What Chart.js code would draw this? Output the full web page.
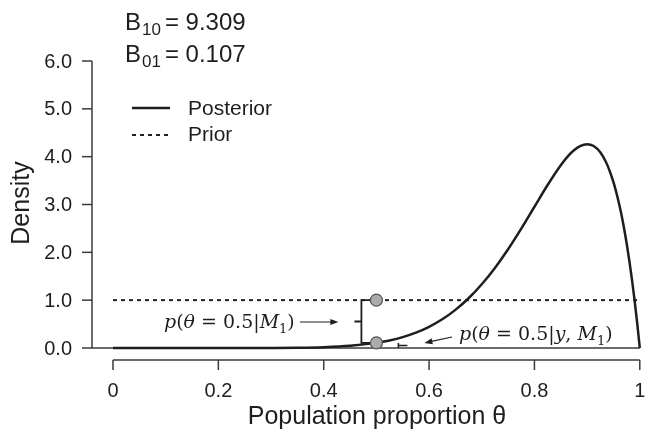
<!DOCTYPE html>
<html><head><meta charset="utf-8">
<script src="https://cdn.jsdelivr.net/npm/chart.js@4/dist/chart.umd.min.js"></script>
<style>html,body{margin:0;padding:0;background:#fff}canvas{display:block}</style>
</head><body>
<canvas id="c" width="647" height="429" style="width:647px;height:429px"></canvas>
<script>
// ---- data ----
const thetaValues = [0, 0.05, 0.1, 0.15, 0.2, 0.25, 0.3, 0.35, 0.4, 0.45, 0.5, 0.525, 0.55, 0.575, 0.6, 0.625, 0.65, 0.675, 0.7, 0.725, 0.75, 0.775, 0.8, 0.825, 0.85, 0.865, 0.875, 0.8875, 0.9, 0.9125, 0.925, 0.935, 0.94, 0.95, 0.96, 0.965, 0.97, 0.975, 0.98, 0.985, 0.99, 0.995, 1];
const posteriorDensity = [0, 0, 0, 0, 0, 0.0003, 0.0015, 0.0056, 0.0173, 0.0458, 0.107, 0.158, 0.228, 0.321, 0.443, 0.600, 0.797, 1.040, 1.332, 1.674, 2.065, 2.496, 2.953, 3.408, 3.822, 4.026, 4.134, 4.227, 4.262, 4.222, 4.090, 3.905, 3.782, 3.466, 3.047, 2.794, 2.509, 2.190, 1.834, 1.440, 1.005, 0.526, 0];
const priorTheta = [0, 1];
const priorDensity = [1, 1];
const testTheta = [0.5, 0.5];
const testDensity = [1.0, 0.107];          // prior and posterior height at theta = 0.5
const bfSubscripts = ['10', '01'];
const bfValues = ['9.309', '0.107'];
const legendLabels = ['Posterior', 'Prior'];
const xTickValues = [0, 0.2, 0.4, 0.6, 0.8, 1];
const xTickLabels = ['0', '0.2', '0.4', '0.6', '0.8', '1'];
const yTickValues = [0, 1, 2, 3, 4, 5, 6];
const yTickLabels = ['0.0', '1.0', '2.0', '3.0', '4.0', '5.0', '6.0'];
const xTitle = 'Population proportion \u03B8';
const yTitle = 'Density';

const SANS = '"Liberation Sans", Arial, sans-serif';
const SERIF = '"DejaVu Serif", serif';
const INK = '#1e1e1e';
const AXIS = '#3a3a3a';

function arrow(ctx, x1, y1, x2, y2) {
  ctx.save();
  ctx.strokeStyle = INK; ctx.fillStyle = INK; ctx.lineWidth = 1.2;
  const a = Math.atan2(y2 - y1, x2 - x1);
  ctx.beginPath(); ctx.moveTo(x1, y1); ctx.lineTo(x2 - 6 * Math.cos(a), y2 - 6 * Math.sin(a)); ctx.stroke();
  ctx.beginPath();
  ctx.moveTo(x2, y2);
  ctx.lineTo(x2 - 8 * Math.cos(a) + 3 * Math.sin(a), y2 - 8 * Math.sin(a) - 3 * Math.cos(a));
  ctx.lineTo(x2 - 8 * Math.cos(a) - 3 * Math.sin(a), y2 - 8 * Math.sin(a) + 3 * Math.cos(a));
  ctx.closePath(); ctx.fill();
  ctx.restore();
}

function mathText(ctx, segs, x, y, size) {
  ctx.save();
  ctx.fillStyle = INK; ctx.textBaseline = 'alphabetic'; ctx.textAlign = 'left';
  let cx = x;
  for (const [t, it, sub] of segs) {
    const fs = sub ? Math.round(size * 0.7) : size;
    ctx.font = (it ? 'italic ' : '') + fs + 'px ' + SERIF;
    ctx.fillText(t, cx, y + (sub ? size * 0.25 : 0));
    cx += ctx.measureText(t).width;
  }
  ctx.restore();
  return cx;
}

const decor = {
  id: 'decor',
  beforeDatasetsDraw(chart) {
    const ctx = chart.ctx, xs = chart.scales.x, ys = chart.scales.y;
    const y0 = ys.getPixelForValue(0);
    const yAxisX = 92, xAxisY = 360;
    ctx.save();
    ctx.strokeStyle = AXIS; ctx.lineWidth = 1.5;
    // baseline at density 0
    ctx.beginPath(); ctx.moveTo(yAxisX, y0); ctx.lineTo(xs.getPixelForValue(1), y0); ctx.stroke();
    // y axis
    ctx.beginPath(); ctx.moveTo(yAxisX, ys.getPixelForValue(yTickValues[yTickValues.length - 1]));
    ctx.lineTo(yAxisX, ys.getPixelForValue(yTickValues[0])); ctx.stroke();
    ctx.fillStyle = INK; ctx.font = '20px ' + SANS; ctx.textAlign = 'right'; ctx.textBaseline = 'middle';
    yTickValues.forEach((v, i) => {
      const py = ys.getPixelForValue(v);
      ctx.beginPath(); ctx.moveTo(yAxisX - 10, py); ctx.lineTo(yAxisX, py); ctx.stroke();
      ctx.fillText(yTickLabels[i], 72, py + 1);
    });
    // x axis
    ctx.beginPath(); ctx.moveTo(xs.getPixelForValue(xTickValues[0]), xAxisY);
    ctx.lineTo(xs.getPixelForValue(xTickValues[xTickValues.length - 1]), xAxisY); ctx.stroke();
    ctx.textAlign = 'center';
    xTickValues.forEach((v, i) => {
      const px = xs.getPixelForValue(v);
      ctx.beginPath(); ctx.moveTo(px, xAxisY); ctx.lineTo(px, xAxisY + 10); ctx.stroke();
      ctx.fillText(xTickLabels[i], px, 391);
    });
    // titles
    ctx.font = '25px ' + SANS; ctx.textBaseline = 'alphabetic';
    ctx.fillText(xTitle, 377, 424);
    ctx.save(); ctx.translate(29, 203); ctx.rotate(-Math.PI / 2);
    ctx.font = '25px ' + SANS; ctx.fillText(yTitle, 0, 0); ctx.restore();

    // brackets
    const px = xs.getPixelForValue(testTheta[0]);
    const pTop = ys.getPixelForValue(testDensity[0]);
    const pBot = ys.getPixelForValue(testDensity[1]);
    ctx.strokeStyle = INK; ctx.lineWidth = 1.8;
    const bx = px - 15;
    ctx.beginPath();
    ctx.moveTo(px, pTop); ctx.lineTo(bx, pTop); ctx.lineTo(bx, pBot); ctx.lineTo(px, pBot);
    ctx.moveTo(bx, (pTop + pBot) / 2); ctx.lineTo(bx - 7, (pTop + pBot) / 2);
    ctx.stroke();
    const bx2 = px + 22;
    ctx.lineWidth = 1.5;
    ctx.beginPath();
    ctx.moveTo(bx2, pBot); ctx.lineTo(bx2, y0);
    ctx.moveTo(bx2, (pBot + y0) / 2); ctx.lineTo(bx2 + 9, (pBot + y0) / 2);
    ctx.stroke();
    ctx.restore();
  },
  afterDatasetsDraw(chart) {
    const ctx = chart.ctx, xs = chart.scales.x, ys = chart.scales.y;
    ctx.save();
    ctx.fillStyle = INK; ctx.textBaseline = 'alphabetic'; ctx.textAlign = 'left';
    // Bayes factors
    const bfBase = [30, 62];
    bfSubscripts.forEach((s, i) => {
      let x = 125;
      ctx.font = '24px ' + SANS; ctx.fillText('B', x, bfBase[i]); x += ctx.measureText('B').width + 1;
      ctx.font = '17px ' + SANS; ctx.fillText(s, x, bfBase[i] + 5); x += ctx.measureText(s).width + 4;
      ctx.font = '24px ' + SANS; ctx.fillText('= ' + bfValues[i], x, bfBase[i]);
    });
    // legend
    ctx.strokeStyle = INK;
    ctx.lineWidth = 2.5; ctx.beginPath(); ctx.moveTo(132, 108); ctx.lineTo(170, 108); ctx.stroke();
    ctx.lineWidth = 2; ctx.setLineDash([4, 4]); ctx.beginPath(); ctx.moveTo(132, 135); ctx.lineTo(170, 135); ctx.stroke();
    ctx.setLineDash([]);
    ctx.font = '21px ' + SANS; ctx.textBaseline = 'middle';
    ctx.fillText(legendLabels[0], 188, 109);
    ctx.fillText(legendLabels[1], 188, 135);
    // math annotations
    const px = xs.getPixelForValue(testTheta[0]);
    const pBot = ys.getPixelForValue(testDensity[1]);
    mathText(ctx, [['p', 1], ['(', 0], ['\u03B8', 1], [' = ', 0], ['0.5', 0], ['|', 0], ['M', 1], ['1', 0, 1], [')', 0]], 164, 328, 19);
    arrow(ctx, 300, 322, px - 38, 322);
    mathText(ctx, [['p', 1], ['(', 0], ['\u03B8', 1], [' = ', 0], ['0.5', 0], ['|', 0], ['y', 1], [', ', 0], ['M', 1], ['1', 0, 1], [')', 0]], 459, 340, 19);
    arrow(ctx, 452, 337, px + 48, pBot);
    ctx.restore();
  }
};

new Chart(document.getElementById('c'), {
  type: 'scatter',
  data: {
    datasets: [
      {
        label: 'theta = 0.5',
        data: testTheta.map((t, i) => ({ x: t, y: testDensity[i] })),
        pointRadius: 6, pointBackgroundColor: '#ababab', pointBorderColor: '#555', pointBorderWidth: 1.2,
        showLine: false, clip: false
      },
      {
        label: legendLabels[0],
        data: thetaValues.map((t, i) => ({ x: t, y: posteriorDensity[i] })),
        showLine: true, borderColor: INK, borderWidth: 2.5, pointRadius: 0,
        cubicInterpolationMode: 'monotone', clip: false
      },
      {
        label: legendLabels[1],
        data: priorTheta.map((t, i) => ({ x: t, y: priorDensity[i] })),
        showLine: true, borderColor: INK, borderWidth: 2, borderDash: [4, 4], pointRadius: 0, clip: false
      }
    ]
  },
  options: {
    responsive: false, animation: false, devicePixelRatio: 1,
    layout: { padding: { left: 113, right: 5, top: 61, bottom: 81 } },
    scales: {
      x: { type: 'linear', min: 0, max: 1, display: false },
      y: { type: 'linear', min: 0, max: 6, display: false }
    },
    plugins: { legend: { display: false }, tooltip: { enabled: false } }
  },
  plugins: [decor]
});
</script>
</body></html>
